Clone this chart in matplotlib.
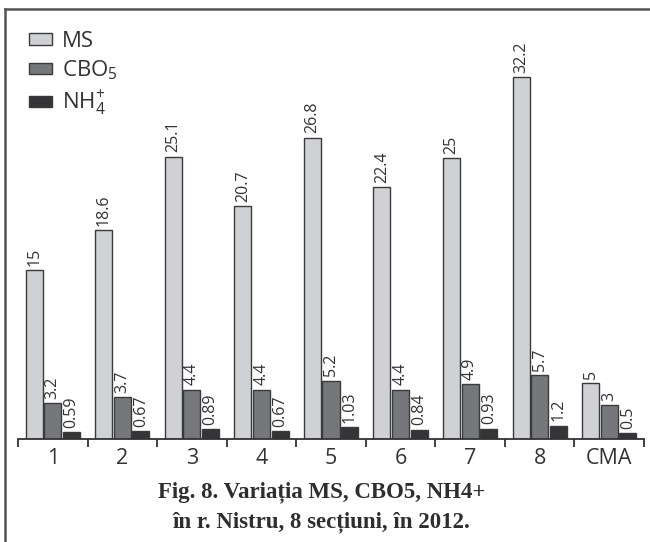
import matplotlib
matplotlib.use("Agg")
import matplotlib.pyplot as plt
import numpy as np

plt.rcParams['font.family'] = ['Open Sans', 'DejaVu Sans']
plt.rcParams['mathtext.fontset'] = 'custom'
plt.rcParams['mathtext.rm'] = 'Open Sans'
plt.rcParams['mathtext.it'] = 'Open Sans'

categories = ["1", "2", "3", "4", "5", "6", "7", "8", "CMA"]
ms = [15, 18.6, 25.1, 20.7, 26.8, 22.4, 25, 32.2, 5]
cbo5 = [3.2, 3.7, 4.4, 4.4, 5.2, 4.4, 4.9, 5.7, 3]
nh4 = [0.59, 0.67, 0.89, 0.67, 1.03, 0.84, 0.93, 1.2, 0.5]

series_names = ["MS", r"CBO$_{\mathrm{5}}$", r"NH$_{\mathrm{4}}^{\mathrm{+}}$"]
colors = ["#d0d1d4", "#76777b", "#353537"]
edge = "#3a3a3a"
text_col = "#333333"

fig = plt.figure(figsize=(6.5, 5.42), dpi=100)
ax = fig.add_axes([18 / 650, 1 - 439 / 542, 626 / 650, 430 / 542])

x = np.arange(len(categories))
w = 0.245
offsets = [-0.268, 0.0, 0.268]
handles = []
for vals, off, col, name in zip([ms, cbo5, nh4], offsets, colors, series_names):
    bars = ax.bar(x + off, vals, width=w, color=col, edgecolor=edge, linewidth=1.0, label=name)
    handles.append(bars)
    for b, v in zip(bars, vals):
        ax.annotate("%g" % v, (b.get_x() + b.get_width() / 2, b.get_height()),
                    xytext=(0, 3), textcoords="offset points", rotation=90,
                    ha="center", va="bottom", fontsize=11.5, color=text_col)

ax.set_xlim(-0.5, len(categories) - 0.5)
ax.set_ylim(0, 430 / 11.25)

for s in ["top", "right", "left"]:
    ax.spines[s].set_visible(False)
ax.spines["bottom"].set_color(text_col)
ax.spines["bottom"].set_linewidth(1.3)
ax.set_yticks([])
ax.set_xticks(np.arange(-0.5, len(categories)))
ax.set_xticklabels([])
ax.tick_params(axis="x", which="major", length=5.5, width=1.3, color=text_col, direction="out")
ax.set_xticks(x, minor=True)
ax.set_xticklabels(categories, minor=True, fontsize=15.5, color=text_col)
ax.tick_params(axis="x", which="minor", length=0, pad=6.5)

leg = fig.legend(handles=handles, loc="upper left", bbox_to_anchor=(29 / 650, 1 - 31 / 542),
                 frameon=False, fontsize=16, handlelength=1.05, handleheight=0.42,
                 handletextpad=0.45, labelspacing=0.3, borderpad=0, borderaxespad=0)
for t in leg.get_texts():
    t.set_color(text_col)

fig.text(0.495, 1 - 492 / 542, "Fig. 8. Variația MS, CBO5, NH4+", ha="center", va="center",
         family="Liberation Serif", fontweight="bold", fontsize=16.5, color="#2e2e2e")
fig.text(0.495, 1 - 522 / 542, "în r. Nistru, 8 secțiuni, în 2012.", ha="center", va="center",
         family="Liberation Serif", fontweight="bold", fontsize=16.5, color="#2e2e2e")

# frame lines (top and left only)
fig.add_artist(plt.Line2D([5 / 650, 1], [1 - 9 / 542, 1 - 9 / 542], transform=fig.transFigure,
                          color="#555555", linewidth=1.8))
fig.add_artist(plt.Line2D([5 / 650, 5 / 650], [0, 1 - 9 / 542], transform=fig.transFigure,
                          color="#555555", linewidth=1.8))

fig.savefig("out.png", dpi=100)
